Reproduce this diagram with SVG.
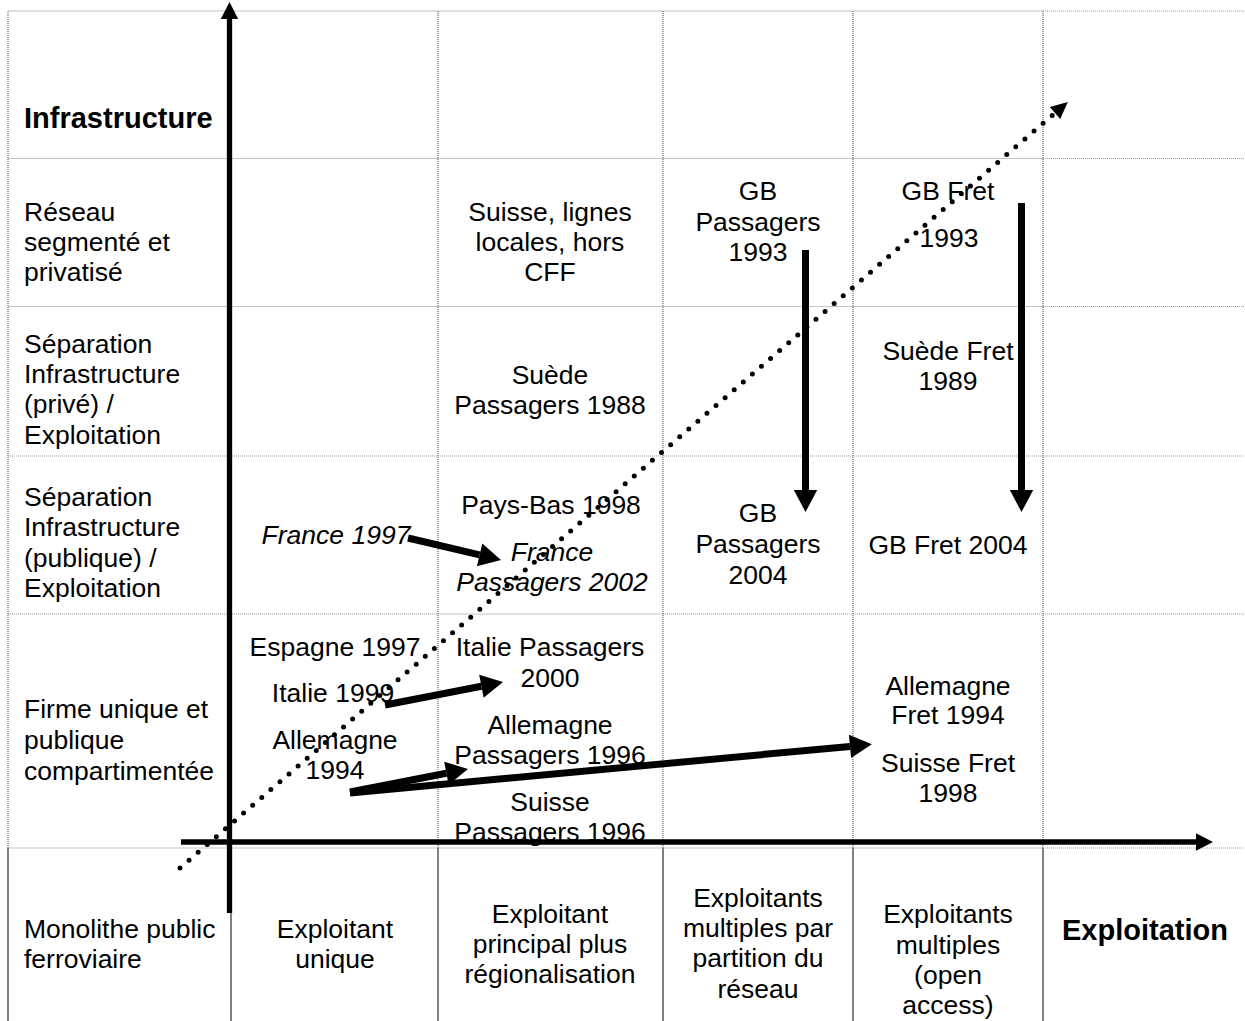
<svg xmlns="http://www.w3.org/2000/svg" width="1245" height="1021" viewBox="0 0 1245 1021">
<style>
.t{font-family:"Liberation Sans",Arial,sans-serif;font-size:26.5px;fill:#000}
.c{text-anchor:middle}
.i{font-style:italic}
.b{font-weight:bold;font-size:29px}
.hl{stroke:#c4c4c4;stroke-width:1.2;fill:none}
.hd{stroke:#9a9a9a;stroke-width:1.2;stroke-dasharray:1 1;fill:none}
.vd{stroke:#8a8a8a;stroke-width:1.6;stroke-dasharray:1 1;fill:none}
.vs{stroke:#808080;stroke-width:2;fill:none}
.axis{stroke:#000;stroke-width:5.3;fill:none}
.arr{stroke:#000;stroke-width:7;fill:none}
.dots{stroke:#000;stroke-width:5;stroke-linecap:round;stroke-dasharray:0 12;fill:none}
</style>
<defs>
<marker id="axisHead" markerUnits="userSpaceOnUse" markerWidth="18" markerHeight="18" refX="0" refY="8.7" orient="auto" overflow="visible">
<path d="M0,0 L17,8.7 L0,17.4 z" fill="#000"/>
</marker>
<marker id="bigHead" markerUnits="userSpaceOnUse" markerWidth="24" markerHeight="24" refX="0" refY="11.7" orient="auto" overflow="visible">
<path d="M0,0 L22,11.7 L0,23.4 z" fill="#000"/>
</marker>
<marker id="dotHead" markerUnits="userSpaceOnUse" markerWidth="18" markerHeight="18" refX="0" refY="8" orient="auto" overflow="visible">
<path d="M0,0 L17,8 L0,16 z" fill="#000"/>
</marker>
</defs>
<rect width="1245" height="1021" fill="#fff"/>
<g id="grid">
<path class="hl" d="M8,11H1043M8,158.5H1043M8,306.5H1043M438,614H663M8,848H1043"/>
<path class="hd" d="M8,456H1043M8,614H438M663,614H1043M1043,11H1245M1043,158.5H1245M1043,306.5H1245M1043,456H1245M1043,614H1245M1043,848H1245"/>
<path class="vd" d="M8,11V848M438,11V848M663,11V848M853,11V848M1043,11V848"/>
<path class="vs" d="M8,848V1021M231,848V1021M438,848V1021M663,848V1021M853,848V1021M1043,848V1021"/>
</g>
<g id="label-infrastructure"><text class="t b" x="24" y="128">Infrastructure</text></g>
<g id="label-reseau-segmente"><text class="t" x="24" y="221">Réseau</text><text class="t" x="24" y="251">segmenté et</text><text class="t" x="24" y="281">privatisé</text></g>
<g id="label-separation-prive"><text class="t" x="24" y="353">Séparation</text><text class="t" x="24" y="383">Infrastructure</text><text class="t" x="24" y="413">(privé) /</text><text class="t" x="24" y="444">Exploitation</text></g>
<g id="label-separation-publique"><text class="t" x="24" y="506">Séparation</text><text class="t" x="24" y="536">Infrastructure</text><text class="t" x="24" y="567">(publique) /</text><text class="t" x="24" y="597">Exploitation</text></g>
<g id="label-firme-unique"><text class="t" x="24" y="718">Firme unique et</text><text class="t" x="24" y="749">publique</text><text class="t" x="24" y="780">compartimentée</text></g>
<g id="label-monolithe"><text class="t" x="24" y="938">Monolithe public</text><text class="t" x="24" y="968">ferroviaire</text></g>
<g id="label-exploitant-unique"><text class="t c" x="335" y="938">Exploitant</text><text class="t c" x="335" y="968">unique</text></g>
<g id="label-exploitant-principal"><text class="t c" x="550" y="923">Exploitant</text><text class="t c" x="550" y="953">principal plus</text><text class="t c" x="550" y="983">régionalisation</text></g>
<g id="label-exploitants-partition"><text class="t c" x="758" y="907">Exploitants</text><text class="t c" x="758" y="937">multiples par</text><text class="t c" x="758" y="967">partition du</text><text class="t c" x="758" y="998">réseau</text></g>
<g id="label-exploitants-open"><text class="t c" x="948" y="923">Exploitants</text><text class="t c" x="948" y="954">multiples</text><text class="t c" x="948" y="984">(open</text><text class="t c" x="948" y="1014">access)</text></g>
<g id="label-exploitation"><text class="t b" x="1062" y="940">Exploitation</text></g>
<g id="suisse-lignes-locales"><text class="t c" x="550" y="221">Suisse, lignes</text><text class="t c" x="550" y="251">locales, hors</text><text class="t c" x="550" y="281">CFF</text></g>
<g id="suede-passagers-1988"><text class="t c" x="550" y="384">Suède</text><text class="t c" x="550" y="414">Passagers 1988</text></g>
<g id="pays-bas-1998"><text class="t c" x="551" y="514">Pays-Bas 1998</text></g>
<g id="france-passagers-2002"><text class="t c i" x="552" y="561">France</text><text class="t c i" x="552" y="591">Passagers 2002</text></g>
<g id="france-1997"><text class="t c i" x="336" y="544">France 1997</text></g>
<g id="espagne-1997"><text class="t c" x="335" y="656">Espagne 1997</text></g>
<g id="italie-1999"><text class="t c" x="333" y="702">Italie 1999</text></g>
<g id="allemagne-1994"><text class="t c" x="335" y="749">Allemagne</text><text class="t c" x="335" y="779">1994</text></g>
<g id="italie-passagers-2000"><text class="t c" x="550" y="656">Italie Passagers</text><text class="t c" x="550" y="687">2000</text></g>
<g id="allemagne-passagers-1996"><text class="t c" x="550" y="734">Allemagne</text><text class="t c" x="550" y="764">Passagers 1996</text></g>
<g id="suisse-passagers-1996"><text class="t c" x="550" y="811">Suisse</text><text class="t c" x="550" y="841">Passagers 1996</text></g>
<g id="gb-passagers-1993"><text class="t c" x="758" y="200">GB</text><text class="t c" x="758" y="231">Passagers</text><text class="t c" x="758" y="261">1993</text></g>
<g id="gb-passagers-2004"><text class="t c" x="758" y="522">GB</text><text class="t c" x="758" y="553">Passagers</text><text class="t c" x="758" y="584">2004</text></g>
<g id="gb-fret-1993"><text class="t c" x="948" y="200">GB Fret</text><text class="t c" x="949" y="247">1993</text></g>
<g id="suede-fret-1989"><text class="t c" x="948" y="360">Suède Fret</text><text class="t c" x="948" y="390">1989</text></g>
<g id="gb-fret-2004"><text class="t c" x="948" y="554">GB Fret 2004</text></g>
<g id="allemagne-fret-1994"><text class="t c" x="948" y="695">Allemagne</text><text class="t c" x="948" y="724">Fret 1994</text></g>
<g id="suisse-fret-1998"><text class="t c" x="948" y="772">Suisse Fret</text><text class="t c" x="948" y="802">1998</text></g>
<g id="connectors">
<line class="dots" x1="180" y1="868" x2="1055" y2="113" marker-end="url(#dotHead)"/>
<line class="axis" x1="229.5" y1="913" x2="229.5" y2="19" marker-end="url(#axisHead)"/>
<line class="axis" x1="181" y1="842" x2="1196" y2="842" marker-end="url(#axisHead)"/>
<line class="arr" x1="805.5" y1="250" x2="805.5" y2="490" marker-end="url(#bigHead)"/>
<line class="arr" x1="1021.5" y1="203" x2="1021.5" y2="490" marker-end="url(#bigHead)"/>
<line class="arr" x1="408" y1="538" x2="479.6" y2="554.9" marker-end="url(#bigHead)"/>
<line class="arr" x1="385" y1="705" x2="481.4" y2="686.2" marker-end="url(#bigHead)"/>
<line class="arr" x1="350" y1="792" x2="446.4" y2="773.2" marker-end="url(#bigHead)"/>
<line class="arr" x1="350" y1="793" x2="850" y2="746.4" marker-end="url(#bigHead)"/>
</g>
</svg>
